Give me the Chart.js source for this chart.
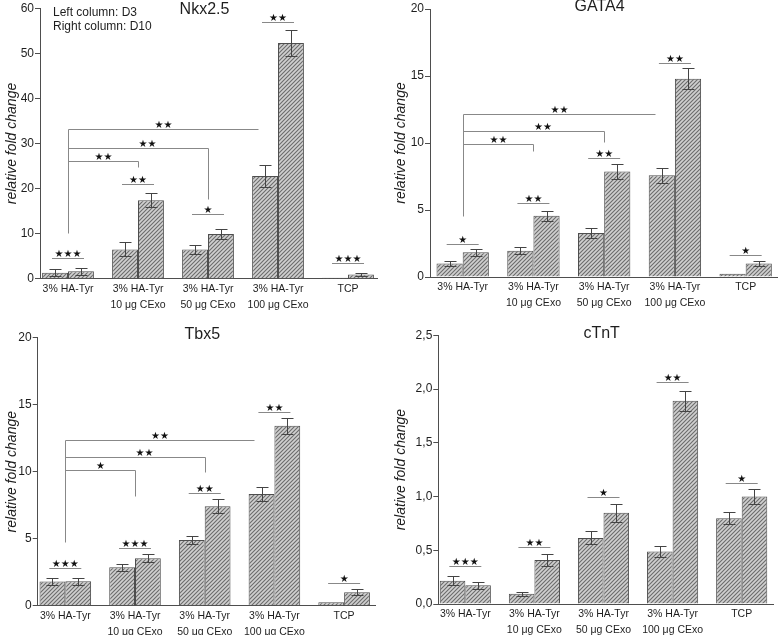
<!DOCTYPE html>
<html><head><meta charset="utf-8">
<script src="https://cdn.jsdelivr.net/npm/chart.js@4.4.1/dist/chart.umd.min.js"></script>
<style>
html,body{margin:0;padding:0;background:#fff;overflow:hidden;}
#wrap{position:relative;width:778px;height:635px;overflow:hidden;background:#fff;}
canvas{position:absolute;}
</style></head><body>
<div id="wrap">
<canvas id="c1" width="389" height="317" style="left:0px;top:0px"></canvas>
<canvas id="c2" width="389" height="317" style="left:389px;top:0px"></canvas>
<canvas id="c3" width="389" height="330" style="left:0px;top:317px"></canvas>
<canvas id="c4" width="389" height="330" style="left:389px;top:317px"></canvas>
</div>
<script>
// ---------------- DATA ----------------
const categories = [["3% HA-Tyr"], ["3% HA-Tyr", "10 μg CExo"], ["3% HA-Tyr", "50 μg CExo"], ["3% HA-Tyr", "100 μg CExo"], ["TCP"]];
const seriesNames = ["D3", "D10"];
const noteLines = ["Left column: D3", "Right column: D10"];
const yAxisTitle = "relative fold change";

// Nkx2.5
const nkxTitle = "Nkx2.5";
const nkxD3 = [1.3, 6.5, 6.5, 22.8, 0.2];
const nkxD3Err = [0.8, 1.55, 1.0, 2.5, 0];
const nkxD10 = [1.65, 17.4, 9.9, 52.3, 0.95];
const nkxD10Err = [0.75, 1.6, 1.1, 2.8, 0.4];
const nkxPairLevels = [4.5, 21.0, 14.4, 56.9, 3.4];
const nkxPairStars = ["★★★", "★★", "★", "★★", "★★★"];
const nkxBracketBase = 10.2;
const nkxBracketLevels = [26.2, 29.1, 33.2];
const nkxBracketDrops = [24.8, 17.6, null];
const nkxBracketStars = ["★★", "★★", "★★"];
const nkxYTicks = [0, 10, 20, 30, 40, 50, 60];

// GATA4
const gataTitle = "GATA4";
const gataD3 = [1.0, 1.95, 3.28, 7.6, 0.25];
const gataD3Err = [0.2, 0.27, 0.37, 0.55, 0];
const gataD10 = [1.85, 4.58, 7.88, 14.8, 1.0];
const gataD10Err = [0.25, 0.37, 0.57, 0.77, 0.18];
const gataPairLevels = [2.5, 5.5, 8.9, 16.0, 1.65];
const gataPairStars = ["★", "★★", "★★", "★★", "★"];
const gataBracketBase = 4.53;
const gataBracketLevels = [9.95, 10.9, 12.15];
const gataBracketDrops = [9.38, 10.08, null];
const gataBracketStars = ["★★", "★★", "★★"];
const gataYTicks = [0, 5, 10, 15, 20];

// Tbx5
const tbxTitle = "Tbx5";
const tbxD3 = [1.8, 2.87, 4.91, 8.33, 0.25];
const tbxD3Err = [0.25, 0.25, 0.28, 0.5, 0];
const tbxD10 = [1.82, 3.54, 7.43, 13.42, 1.0];
const tbxD10Err = [0.25, 0.3, 0.5, 0.6, 0.22];
const tbxPairLevels = [2.79, 4.34, 8.4, 14.46, 1.67];
const tbxPairStars = ["★★★", "★★★", "★★", "★★", "★"];
const tbxBracketBase = 4.79;
const tbxBracketLevels = [10.12, 11.1, 12.39];
const tbxBracketDrops = [8.2, 9.95, null];
const tbxBracketStars = ["★", "★★", "★★"];
const tbxYTicks = [0, 5, 10, 15, 20];

// cTnT
const ctntTitle = "cTnT";
const ctntD3 = [0.217, 0.096, 0.615, 0.488, 0.798];
const ctntD3Err = [0.04, 0.02, 0.06, 0.05, 0.056];
const ctntD10 = [0.174, 0.41, 0.848, 1.89, 1.0];
const ctntD10Err = [0.035, 0.056, 0.085, 0.09, 0.07];
const ctntPairLevels = [0.357, 0.534, 0.994, 2.065, 1.124];
const ctntPairStars = ["★★★", "★★", "★", "★★", "★"];
const ctntYTicks = [0, 0.5, 1.0, 1.5, 2.0, 2.5];

// ---------------- STYLE / LAYOUT ----------------
const FONT = "'Liberation Sans', Arial, Helvetica, sans-serif";
const AXIS_COLOR = '#4e4e4e';
const TEXT_COLOR = '#1e1e1e';
const SIG_COLOR = '#888888';
const XH = 38;

Chart.defaults.font.family = FONT;
Chart.defaults.color = TEXT_COLOR;

function makeHatch() {
  const c = document.createElement('canvas');
  c.width = 4; c.height = 4;
  const g = c.getContext('2d');
  g.fillStyle = '#d0d0d0'; g.fillRect(0, 0, 4, 4);
  g.strokeStyle = '#6c6c6c'; g.lineWidth = 1.1;
  g.beginPath();
  g.moveTo(-1, 1); g.lineTo(1, -1);
  g.moveTo(-1, 5); g.lineTo(5, -1);
  g.moveTo(3, 5); g.lineTo(5, 3);
  g.stroke();
  return g.createPattern(c, 'repeat');
}
const hatch = makeHatch();

const annotPlugin = {
  id: 'annot',
  afterDatasetsDraw(chart, args, o) {
    const ctx = chart.ctx;
    const xs = chart.scales.x, ys = chart.scales.y;
    ctx.save();
    // error bars
    ctx.strokeStyle = '#444';
    ctx.lineWidth = 1;
    chart.data.datasets.forEach((ds, di) => {
      const meta = chart.getDatasetMeta(di);
      meta.data.forEach((bar, i) => {
        const e = ds.errors[i];
        if (!e) return;
        const v = ds.data[i].y;
        const x = Math.round(bar.x) + 0.5;
        const y1 = Math.round(ys.getPixelForValue(v + e)) + 0.5, y2 = Math.round(ys.getPixelForValue(v - e)) + 0.5;
        ctx.beginPath();
        ctx.moveTo(x, y1); ctx.lineTo(x, y2);
        ctx.moveTo(x - 6, y1); ctx.lineTo(x + 6, y1);
        ctx.moveTo(x - 6, y2); ctx.lineTo(x + 6, y2);
        ctx.stroke();
      });
    });
    // significance
    ctx.strokeStyle = SIG_COLOR;
    ctx.fillStyle = '#111';
    ctx.font = "10px 'DejaVu Sans'";
    ctx.textAlign = 'center';
    ctx.textBaseline = 'alphabetic';
    const hline = (xa, xb, y) => { ctx.beginPath(); ctx.moveTo(xa, y); ctx.lineTo(xb, y); ctx.stroke(); };
    const vline = (x, ya, yb) => { ctx.beginPath(); ctx.moveTo(x, ya); ctx.lineTo(x, yb); ctx.stroke(); };
    o.pairLevels.forEach((lv, i) => {
      const cx = xs.getPixelForValue(i);
      const y = Math.round(ys.getPixelForValue(lv)) + 0.5;
      hline(cx - 16, cx + 16, y);
      ctx.fillText(o.pairStars[i], cx, y - 2);
    });
    if (o.bracketLevels) {
      const x0 = Math.round(xs.getPixelForValue(0)) + 0.5;
      const top = Math.round(ys.getPixelForValue(Math.max(...o.bracketLevels))) + 0.5;
      vline(x0, Math.round(ys.getPixelForValue(o.bracketBase)) + 0.5, top);
      o.bracketLevels.forEach((lv, k) => {
        const y = Math.round(ys.getPixelForValue(lv)) + 0.5;
        const drop = o.bracketDrops[k];
        const xt = xs.getPixelForValue(k + 1);
        const xe = Math.round(drop != null ? xt : xt - 20) + 0.5;
        hline(x0, xe, y);
        if (drop != null) vline(xe, y, Math.round(ys.getPixelForValue(drop)) + 0.5);
        const shift = (k === 1) ? 9 : 0;
        ctx.fillText(o.bracketStars[k], (x0 + xe) / 2 + shift, y - 2);
      });
    }
    ctx.restore();
  },
  afterDraw(chart, args, o) {
    const ctx = chart.ctx;
    const a = chart.chartArea;
    ctx.save();
    ctx.fillStyle = TEXT_COLOR;
    ctx.font = '16px ' + FONT;
    ctx.textAlign = 'center';
    ctx.textBaseline = 'middle';
    ctx.fillText(o.title, (a.left + a.right) / 2 - 4, a.top + o.titleDy);
    if (o.notes) {
      ctx.font = '12px ' + FONT;
      ctx.textAlign = 'left';
      o.notes.forEach((t, i) => ctx.fillText(t, a.left + 13, a.top + 4.5 + i * 14));
    }
    ctx.restore();
  }
};

function makeChart(id, P) {
  const [bx, by, bw, bh] = P.box;
  const [al, at, ar, ab] = P.area;
  const mk = (vals) => vals.map((v, i) => ({ x: i, y: v }));
  const dsBase = { backgroundColor: hatch, borderColor: AXIS_COLOR, borderWidth: 1, categoryPercentage: 0.74, barPercentage: 1.0, borderSkipped: 'start' };
  return new Chart(document.getElementById(id), {
    type: 'bar',
    data: {
      datasets: [
        Object.assign({ label: seriesNames[0], data: mk(P.d3), errors: P.d3e }, dsBase),
        Object.assign({ label: seriesNames[1], data: mk(P.d10), errors: P.d10e }, dsBase)
      ]
    },
    options: {
      responsive: false,
      animation: false,
      layout: { padding: { left: 0, top: at - by, right: bx + bw - ar, bottom: by + bh - ab - XH } },
      plugins: {
        legend: { display: false },
        tooltip: { enabled: false },
        annot: {
          title: P.title, titleDy: P.titleDy, notes: P.notes || null,
          pairLevels: P.pairLevels, pairStars: P.pairStars,
          bracketBase: P.bracketBase, bracketLevels: P.bracketLevels || null,
          bracketDrops: P.bracketDrops, bracketStars: P.bracketStars
        }
      },
      scales: {
        x: {
          type: 'linear', min: P.xr[0], max: P.xr[1], offset: false,
          afterFit: (s) => { s.height = XH; },
          grid: { display: false, offset: false, drawTicks: false, tickLength: 0 },
          border: { display: true, color: AXIS_COLOR, width: 1 },
          ticks: {
            stepSize: 1, includeBounds: false, autoSkip: false, maxRotation: 0, minRotation: 0,
            padding: 2, color: TEXT_COLOR,
            font: { size: 10.5, lineHeight: 1.55 },
            callback: (v) => (Number.isInteger(v) && categories[v]) ? categories[v] : ''
          }
        },
        y: {
          type: 'linear', min: P.yTicks[0], max: P.yTicks[P.yTicks.length - 1],
          afterFit: (s) => { s.width = al - bx; },
          afterBuildTicks: (s) => { s.ticks = P.yTicks.map(v => ({ value: v })); },
          grid: { display: true, drawOnChartArea: false, drawTicks: true, tickLength: 5, color: AXIS_COLOR },
          border: { display: true, color: AXIS_COLOR, width: 1 },
          ticks: {
            padding: 1, color: TEXT_COLOR, font: { size: 12 },
            callback: P.fmt || ((v) => String(v))
          },
          title: { display: true, text: yAxisTitle, color: TEXT_COLOR, font: { size: 14, style: 'italic' }, padding: { top: 4, bottom: 0 } }
        }
      }
    },
    plugins: [annotPlugin]
  });
}

makeChart('c1', {
  box: [0, 0, 389, 317], area: [40, 8.3, 377, 278.7], xr: [-0.4, 4.414], titleDy: 1,
  title: nkxTitle, notes: noteLines, yTicks: nkxYTicks,
  d3: nkxD3, d3e: nkxD3Err, d10: nkxD10, d10e: nkxD10Err,
  pairLevels: nkxPairLevels, pairStars: nkxPairStars,
  bracketBase: nkxBracketBase, bracketLevels: nkxBracketLevels, bracketDrops: nkxBracketDrops, bracketStars: nkxBracketStars
});
makeChart('c2', {
  box: [389, 0, 389, 317], area: [430, 9, 777, 277], xr: [-0.462, 4.443], titleDy: -2,
  title: gataTitle, yTicks: gataYTicks,
  d3: gataD3, d3e: gataD3Err, d10: gataD10, d10e: gataD10Err,
  pairLevels: gataPairLevels, pairStars: gataPairStars,
  bracketBase: gataBracketBase, bracketLevels: gataBracketLevels, bracketDrops: gataBracketDrops, bracketStars: gataBracketStars
});
makeChart('c3', {
  box: [0, 317, 389, 330], area: [37.7, 337.7, 375, 605.7], xr: [-0.396, 4.443], titleDy: -2.7,
  title: tbxTitle, yTicks: tbxYTicks,
  d3: tbxD3, d3e: tbxD3Err, d10: tbxD10, d10e: tbxD10Err,
  pairLevels: tbxPairLevels, pairStars: tbxPairStars,
  bracketBase: tbxBracketBase, bracketLevels: tbxBracketLevels, bracketDrops: tbxBracketDrops, bracketStars: tbxBracketStars
});
makeChart('c4', {
  box: [389, 317, 389, 330], area: [438.3, 335.3, 773, 604], xr: [-0.391, 4.453], titleDy: -2,
  title: ctntTitle, yTicks: ctntYTicks,
  fmt: (v) => v.toFixed(1).replace('.', ','),
  d3: ctntD3, d3e: ctntD3Err, d10: ctntD10, d10e: ctntD10Err,
  pairLevels: ctntPairLevels, pairStars: ctntPairStars
});
</script>
</body></html>
